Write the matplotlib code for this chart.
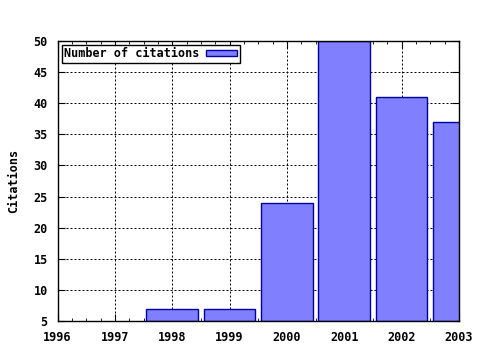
import matplotlib
matplotlib.use("Agg")
import matplotlib.pyplot as plt
from matplotlib.ticker import MultipleLocator

jaar = [1998, 1999, 2000, 2001, 2002, 2003]
citaties = [7, 7, 24, 50, 41, 37]
x_ticks = [1996, 1997, 1998, 1999, 2000, 2001, 2002, 2003]
y_ticks = [5, 10, 15, 20, 25, 30, 35, 40, 45, 50]

plt.rcParams['font.family'] = 'DejaVu Sans Mono'
plt.rcParams['font.weight'] = 'bold'
plt.rcParams['axes.labelweight'] = 'bold'
plt.rcParams['font.size'] = 8.5

fig = plt.figure(figsize=(4.8, 3.5), dpi=100)
ax = fig.add_axes([0.1198, 0.083, 0.8365, 0.8])

ax.bar(jaar, [c - 5 for c in citaties], bottom=5, width=0.9,
       color='#8080ff', edgecolor='#0000a0', linewidth=1,
       label='Number of citations', zorder=3)

ax.set_xlim(1996, 2003)
ax.set_ylim(5, 50)
ax.set_xticks(x_ticks)
ax.set_yticks(y_ticks)
ax.xaxis.set_minor_locator(MultipleLocator(0.25))
ax.tick_params(which='both', direction='in', top=True, right=True,
               labelsize=8.5, pad=7)
ax.tick_params(which='major', length=5)
ax.tick_params(which='minor', length=2.5)
ax.grid(True, which='major', linestyle=(0, (2, 2)), color='black',
        linewidth=0.72, zorder=1)
for s in ax.spines.values():
    s.set_linewidth(1)
    s.set_zorder(4)

ax.set_ylabel('Citations', labelpad=10)

leg = ax.legend(loc='upper left', frameon=True, fancybox=False,
                edgecolor='black', framealpha=1, markerfirst=False,
                handlelength=2.6, handleheight=0.42, borderpad=0.2,
                borderaxespad=0.35, handletextpad=0.6)
leg.get_frame().set_linewidth(1)

fig.savefig('out.png', dpi=100)
